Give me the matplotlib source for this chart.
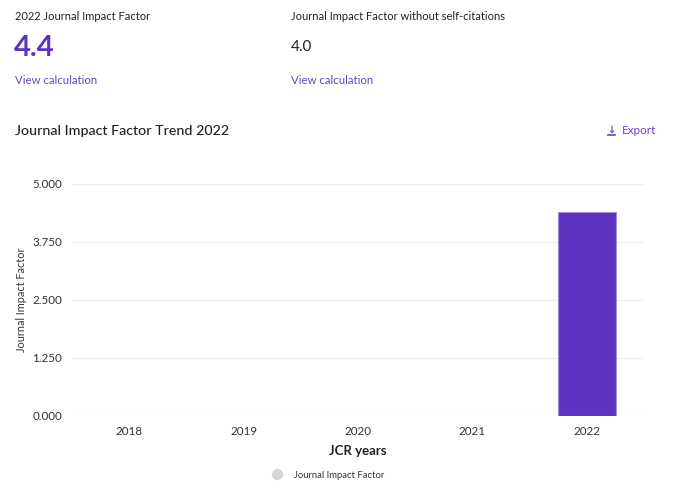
import numpy as np
import matplotlib
matplotlib.use('Agg')
import matplotlib.pyplot as plt
from matplotlib.lines import Line2D

# data
years = ['2018', '2019', '2020', '2021', '2022']
jif = [np.nan, np.nan, np.nan, np.nan, 4.4]
y_ticks = [0.0, 1.25, 2.5, 3.75, 5.0]
jif_2022 = '4.4'
jif_no_self = '4.0'

PURPLE = '#5c33be'
LINK = '#6a45c4'
DARK = '#222222'

plt.rcParams['font.family'] = ['Lato', 'DejaVu Sans']

fig = plt.figure(figsize=(6.82, 4.94), dpi=100)

# header block
fig.text(15 / 682, 1 - 16 / 494, '2022 Journal Impact Factor', fontsize=8.0, color=DARK, va='center')
fig.text(14 / 682, 1 - 48 / 494, jif_2022, fontsize=21, color=PURPLE, weight='bold', va='center')
fig.text(15 / 682, 1 - 80 / 494, 'View calculation', fontsize=8.2, color=LINK, va='center')
fig.text(291 / 682, 1 - 16 / 494, 'Journal Impact Factor without self-citations', fontsize=8.0,
         color=DARK, va='center')
fig.text(291 / 682, 1 - 47 / 494, jif_no_self, fontsize=11, color=DARK, va='center')
fig.text(291 / 682, 1 - 80 / 494, 'View calculation', fontsize=8.2, color=LINK, va='center')

fig.text(15 / 682, 1 - 131 / 494, 'Journal Impact Factor Trend 2022', fontsize=10.3, color=DARK,
         va='center', weight='medium')
fig.text(622 / 682, 1 - 131 / 494, 'Export', fontsize=8.4, color=LINK, va='center')
# download icon
fig.text(611 / 682, 1 - 129.5 / 494, '\u2193', fontsize=7, color=LINK, va='center', ha='center',
         weight='bold', family='DejaVu Sans')
fig.add_artist(Line2D([607.5 / 682, 614.5 / 682], [1 - 135 / 494] * 2, color=LINK, lw=1.2,
                      transform=fig.transFigure))

# chart
ax = fig.add_axes([72 / 682, 1 - 416 / 494, 572 / 682, 232 / 494])
x = np.arange(len(years))
ax.bar(x, jif, width=0.51, color=PURPLE, edgecolor='#a58be0', linewidth=0.8, zorder=3,
       label='Journal Impact Factor')

ax.set_xlim(-0.5, len(years) - 0.5)
ax.set_ylim(0, 5)
ax.set_xticks(x)
ax.set_xticklabels(years)
ax.set_yticks(y_ticks)
ax.set_yticklabels(['%.3f' % v for v in y_ticks])
ax.tick_params(axis='both', length=0, labelsize=8.4, labelcolor='#333333')
ax.tick_params(axis='y', pad=7)
ax.tick_params(axis='x', pad=7)
ax.grid(axis='y', color='#f0f0f0', linewidth=1, zorder=0)
for s in ax.spines.values():
    s.set_visible(False)

fig.text(22 / 682, 1 - 300 / 494, 'Journal Impact Factor', rotation=90, fontsize=7.8,
         color='#333333', ha='center', va='center')
ax.set_xlabel('JCR years', fontsize=9.5, color=DARK, weight='bold', labelpad=6)

handle = Line2D([], [], marker='o', linestyle='none', markersize=7,
                markerfacecolor='#d6d6d6', markeredgecolor='#d6d6d6')
fig.legend([handle], ['Journal Impact Factor'], loc='center',
           bbox_to_anchor=(326 / 682, 1 - 475 / 494), frameon=False, fontsize=6.8,
           handletextpad=0.8, labelcolor='#333333')

fig.savefig('out.png', dpi=100)
